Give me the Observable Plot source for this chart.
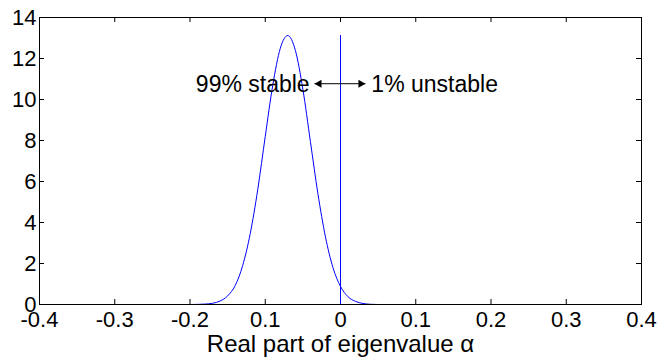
<!DOCTYPE html>
<html><head><meta charset="utf-8">
<script src="https://cdn.jsdelivr.net/npm/d3@7"></script>
<script src="https://cdn.jsdelivr.net/npm/@observablehq/plot@0.6"></script>
<style>body{margin:0;background:#fff;}</style>
</head><body><div id="chart"></div>
<script>
// Real part of eigenvalue (x) and probability density (y)
const alphaRe = [-0.40, -0.30, -0.20, -0.18, -0.17, -0.16, -0.15, -0.14, -0.13, -0.12, -0.11, -0.10, -0.09, -0.08, -0.07, -0.06, -0.05, -0.04, -0.03, -0.02, -0.01, 0.00, 0.01, 0.02, 0.03, 0.04, 0.05, 0.10, 0.19];
const density = [0, 0, 0, 0.02, 0.06, 0.17, 0.42, 0.92, 1.9, 3.45, 5.6, 8.2, 10.7, 12.5, 13.12, 12.4, 10.5, 7.95, 5.4, 3.3, 1.8, 0.88, 0.38, 0.15, 0.05, 0.01, 0, 0, 0];

const xTicks = [-0.4, -0.3, -0.2, -0.1, 0, 0.1, 0.2, 0.3, 0.4];
const xTickLabels = ["-0.4", "-0.3", "-0.2", "0.1", "0", "0.1", "0.2", "0.3", "0.4"];
const yTicks = [0, 2, 4, 6, 8, 10, 12, 14];

const boundaryX = [0];
const boundaryTop = [13.12];

const arrowX = [-0.0346, 0.0332];
const arrowY = [10.77];
const stableText = ["99% stable"];
const stableX = [-0.041];
const unstableText = ["1% unstable"];
const unstableX = [0.041];
const annoY = [10.75];
const xLabel = "Real part of eigenvalue α";

const W = 658, H = 358;
const mL = 39, mR = 17, mT = 17, mB = 54;
const innerW = W - mL - mR, innerH = H - mT - mB;
const tick = 5;

const curve = alphaRe.map((x, i) => ({x, y: density[i]}));
const boundary = boundaryX.map((x, i) => ({x, y1: 0, y2: boundaryTop[i]}));
const arrow = [{x1: arrowX[0], x2: arrowX[1], y: arrowY[0]}];
const headL = [{x: arrowX[0], y: arrowY[0]}];
const headR = [{x: arrowX[1], y: arrowY[0]}];
const stable = stableText.map((t, i) => ({t, x: stableX[i], y: annoY[0]}));
const unstable = unstableText.map((t, i) => ({t, x: unstableX[i], y: annoY[0]}));

const plot = Plot.plot({
  width: W, height: H,
  marginLeft: mL, marginRight: mR, marginTop: mT, marginBottom: mB,
  style: {fontFamily: "'Liberation Sans', Arial, sans-serif", background: "white", color: "black"},
  x: {domain: [-0.4, 0.4]},
  y: {domain: [0, 14]},
  marks: [
    Plot.axisX({ticks: xTicks, tickSize: 0, tickPadding: 7, fontSize: 22,
      tickFormat: (d) => xTickLabels[xTicks.findIndex(t => Math.abs(t - d) < 1e-9)], label: null}),
    Plot.axisY({ticks: yTicks, tickSize: 0, tickPadding: 3, fontSize: 22, label: null}),
    Plot.ruleX(xTicks, {x: d => d, insetTop: innerH - tick, stroke: "black"}),
    Plot.ruleX(xTicks, {x: d => d, insetBottom: innerH - tick, stroke: "black"}),
    Plot.ruleY(yTicks, {y: d => d, insetRight: innerW - tick, stroke: "black"}),
    Plot.ruleY(yTicks, {y: d => d, insetLeft: innerW - tick, stroke: "black"}),
    Plot.line(curve, {x: "x", y: "y", stroke: "#0000ff", strokeWidth: 1, curve: "monotone-x"}),
    Plot.ruleX(boundary, {x: "x", y1: "y1", y2: "y2", stroke: "#0000ff", strokeWidth: 1}),
    Plot.link(arrow, {x1: "x1", x2: "x2", y1: "y", y2: "y", stroke: "black", strokeWidth: 1}),
    Plot.dot(headL, {x: "x", y: "y", symbol: "triangle", r: 3, rotate: -90, dx: 4.7, fill: "black", stroke: "none"}),
    Plot.dot(headR, {x: "x", y: "y", symbol: "triangle", r: 3, rotate: 90, dx: -4.7, fill: "black", stroke: "none"}),
    Plot.text(stable, {x: "x", y: "y", text: "t", textAnchor: "end", fontSize: 23, fill: "black"}),
    Plot.text(unstable, {x: "x", y: "y", text: "t", textAnchor: "start", fontSize: 23, fill: "black"}),
    Plot.text([xLabel], {frameAnchor: "bottom", lineAnchor: "top", dy: 30, fontSize: 24, fill: "black"}),
    Plot.frame({stroke: "black", strokeWidth: 1})
  ]
});
document.getElementById("chart").appendChild(plot);
</script>
</body></html>
